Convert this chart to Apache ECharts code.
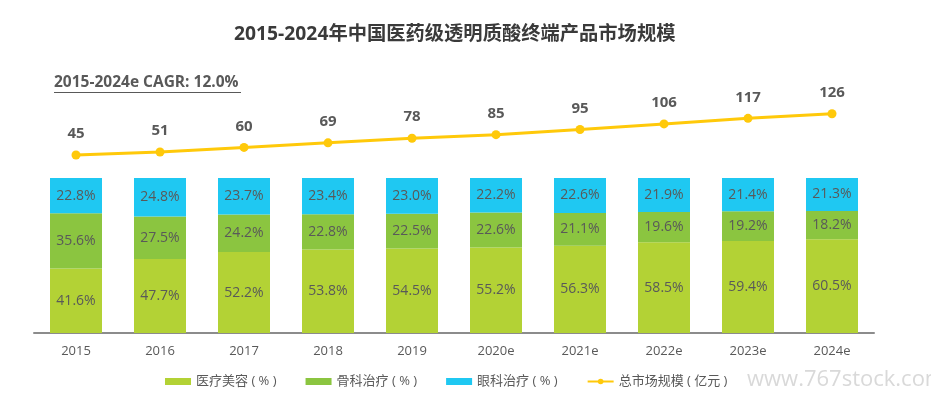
<!DOCTYPE html>
<html>
<head>
<meta charset="utf-8">
<script src="https://cdn.jsdelivr.net/npm/echarts@6/dist/echarts.min.js"></script>
<style>
  html, body { margin: 0; padding: 0; background: #fff; }
  #chart { width: 931px; height: 398px; }
</style>
</head>
<body>
<div id="chart"></div>
<script>
var years = ['2015', '2016', '2017', '2018', '2019', '2020e', '2021e', '2022e', '2023e', '2024e']
var aesthetic = [41.6, 47.7, 52.2, 53.8, 54.5, 55.2, 56.3, 58.5, 59.4, 60.5]
var ortho = [35.6, 27.5, 24.2, 22.8, 22.5, 22.6, 21.1, 19.6, 19.2, 18.2]
var ophth = [22.8, 24.8, 23.7, 23.4, 23.0, 22.2, 22.6, 21.9, 21.4, 21.3]
var total = [45, 51, 60, 69, 78, 85, 95, 106, 117, 126]

var font = '"Open Sans", "Noto Sans CJK SC", sans-serif'
var textColor = '#595959'

var chart = echarts.init(document.getElementById('chart'))

function barSeries(name, data, color) {
  return {
    name: name,
    type: 'bar',
    stack: 'share',
    barWidth: 52,
    xAxisIndex: 0,
    yAxisIndex: 0,
    itemStyle: { color: color },
    label: {
      show: true,
      position: 'inside',
      color: textColor,
      fontSize: 14,
      fontFamily: font,
      formatter(p) {
        return p.value.toFixed(1) + '%'
      }
    },
    data: data
  }
}

chart.setOption({
  backgroundColor: '#fff',
  textStyle: { fontFamily: font },
  title: {
    text: '2015-2024年中国医药级透明质酸终端产品市场规模',
    left: 234,
    top: 25,
    padding: 0,
    textStyle: { color: '#3a3a3a', fontSize: 19.3, fontWeight: 'bold', fontFamily: font }
  },
  graphic: [
    {
      type: 'text',
      left: 54,
      top: 75,
      style: { text: '2015-2024e CAGR: 12.0%', fill: textColor, font: 'bold 15.5px ' + font }
    },
    {
      type: 'line',
      shape: { x1: 54, y1: 92.5, x2: 241, y2: 92.5 },
      style: { stroke: textColor, lineWidth: 1 }
    },
    {
      type: 'text',
      left: 747,
      top: 369,
      style: { text: 'www.767stock.com', fill: '#d9d9d9', font: '22px ' + font }
    }
  ],
  legend: {
    left: 165,
    top: 375,
    padding: 0,
    itemWidth: 26,
    itemHeight: 7,
    itemGap: 29,
    textStyle: { color: textColor, fontSize: 13, fontFamily: font },
    data: [
      { name: '医疗美容 ( % )', icon: 'rect' },
      { name: '骨科治疗 ( % )', icon: 'rect' },
      { name: '眼科治疗 ( % )', icon: 'rect' },
      { name: '总市场规模 ( 亿元 )' }
    ]
  },
  grid: [
    { left: 34, right: 57, top: 178, bottom: 65 },
    { left: 34, right: 57, top: 76, bottom: 220 }
  ],
  xAxis: [
    {
      type: 'category',
      gridIndex: 0,
      data: years,
      axisLine: { lineStyle: { color: '#8c8c8c', width: 2 } },
      axisTick: { show: false },
      axisLabel: { color: textColor, fontSize: 13, margin: 12, fontFamily: font }
    },
    {
      type: 'category',
      gridIndex: 1,
      data: years,
      show: false
    }
  ],
  yAxis: [
    { type: 'value', gridIndex: 0, min: 0, max: 100, show: false },
    { type: 'value', gridIndex: 1, min: 0, max: 200, show: false }
  ],
  series: [
    barSeries('医疗美容 ( % )', aesthetic, '#b3d235'),
    barSeries('骨科治疗 ( % )', ortho, '#8bc540'),
    barSeries('眼科治疗 ( % )', ophth, '#1fc8f2'),
    {
      name: '总市场规模 ( 亿元 )',
      type: 'line',
      xAxisIndex: 1,
      yAxisIndex: 1,
      symbol: 'circle',
      symbolSize: 9,
      lineStyle: { color: '#ffc90a', width: 3 },
      itemStyle: { color: '#ffc90a' },
      label: {
        show: true,
        position: 'top',
        distance: 9,
        color: textColor,
        fontSize: 15,
        fontWeight: 'bold',
        fontFamily: font
      },
      data: total
    }
  ]
})
</script>
</body>
</html>
